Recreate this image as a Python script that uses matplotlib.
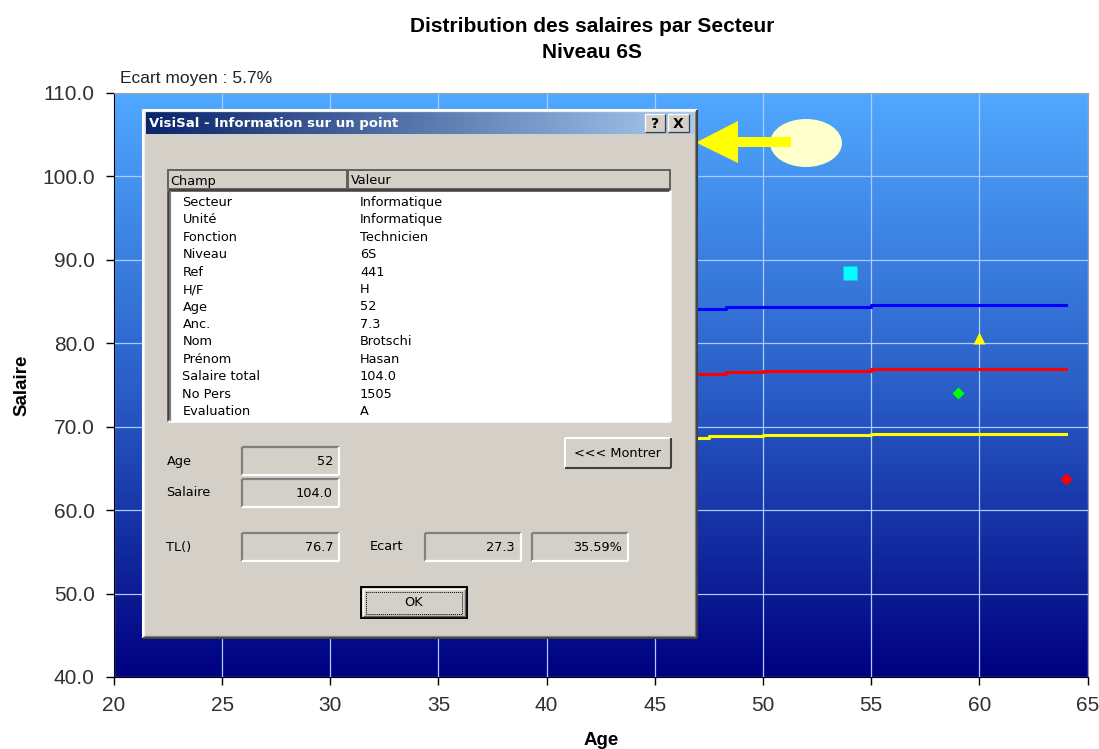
import matplotlib
matplotlib.use('Agg')
import matplotlib.pyplot as plt
import numpy as np
from matplotlib.colors import LinearSegmentedColormap
from matplotlib.patches import Rectangle, Ellipse, Polygon

plt.rcParams['font.family'] = ['Liberation Sans', 'DejaVu Sans']

# Courbes de tendance (TL) par age
tl_ages = [25, 48.3, 50, 55, 64]
tl_mid = [76.3, 76.5, 76.7, 76.9, 76.9]
tl_high = [84.1, 84.3, 84.4, 84.55, 84.55]
low_ages = [25, 47.5, 50, 55, 64]
tl_low = [68.7, 68.85, 69.0, 69.15, 69.15]

# Points visibles
sq_age, sq_sal = [54], [88.4]
tri_age, tri_sal = [60], [80.6]
dg_age, dg_sal = [59], [74.0]
dr_age, dr_sal = [64], [63.7]

x_ticks = [20, 25, 30, 35, 40, 45, 50, 55, 60, 65]
y_ticks = [40, 50, 60, 70, 80, 90, 100, 110]

# Contenu de la boite de dialogue
champs = ['Secteur', 'Unité', 'Fonction', 'Niveau', 'Ref', 'H/F', 'Age', 'Anc.',
          'Nom', 'Prénom', 'Salaire total', 'No Pers', 'Evaluation']
valeurs = ['Informatique', 'Informatique', 'Technicien', '6S', '441', 'H', '52', '7.3',
           'Brotschi', 'Hasan', '104.0', '1505', 'A']

W, H = 1099, 749
fig = plt.figure(figsize=(W / 100, H / 100), dpi=100)
ax = fig.add_axes([114 / W, 1 - 677 / H, 973.5 / W, 584 / H])

# fond en degrade
grad = np.linspace(0, 1, 256).reshape(-1, 1)
cmap = LinearSegmentedColormap.from_list('bg', ['#000080', '#2A5FC8', '#50A8FF'])
ax.imshow(grad, extent=(20, 65, 40, 110), origin='lower', aspect='auto', cmap=cmap, zorder=0)

ax.plot(tl_ages, tl_high, drawstyle='steps-post', color='#0000FF', lw=2.2, zorder=3)
ax.plot(tl_ages, tl_mid, drawstyle='steps-post', color='#FF0000', lw=2.2, zorder=3)
ax.plot(low_ages, tl_low, drawstyle='steps-post', color='#FFFF00', lw=2.2, zorder=3)

ax.plot(sq_age, sq_sal, 's', color='#00FFFF', ms=9.6, mec='none', zorder=4)
ax.plot(tri_age, tri_sal, '^', color='#FFFF00', ms=9, mec='none', zorder=4)
ax.plot(dg_age, dg_sal, 'D', color='#00FF00', ms=6.4, mec='none', zorder=4)
ax.plot(dr_age, dr_sal, 'D', color='#FF0000', ms=6.4, mec='none', zorder=4)

ax.set_xlim(20, 65)
ax.set_ylim(40, 110)
ax.set_xticks(x_ticks)
ax.set_yticks(y_ticks)
ax.set_yticklabels([f'{v:.1f}' for v in y_ticks])
ax.grid(True, color='#A8CCFF', lw=0.9)
ax.tick_params(direction='out', length=6, width=1, labelsize=15, labelcolor='#303030', pad=8)
for s in ['left', 'bottom']:
    ax.spines[s].set_color('black')
for s in ['top', 'right']:
    ax.spines[s].set_color('#A0A0A0')
ax.set_xlabel('Age', fontsize=13.5, fontweight='bold', labelpad=12)
ax.set_ylabel('Salaire', fontsize=13.5, fontweight='bold', labelpad=8)

fig.text(592 / W, 1 - 27 / H, 'Distribution des salaires par Secteur', ha='center', va='center',
         fontsize=15, fontweight='bold')
fig.text(592 / W, 1 - 53 / H, 'Niveau 6S', ha='center', va='center', fontsize=15, fontweight='bold')
fig.text(120 / W, 1 - 78 / H, 'Ecart moyen : 5.7%', ha='left', va='center', fontsize=12.5, color='#222222')

# calque en pixels pour la boite de dialogue
ui = fig.add_axes([0, 0, 1, 1], zorder=10)
ui.patch.set_alpha(0)
ui.axis('off')

GREY = '#D4D0C8'
DLG = dict(family='DejaVu Sans', fontsize=9.3, color='black')


def bevel(x0, y0, x1, y1, light, dark, lw=0.9):
    ui.plot([x0, x1], [y0, y0], color=light, lw=lw, solid_capstyle='butt')
    ui.plot([x0, x0], [y0, y1], color=light, lw=lw, solid_capstyle='butt')
    ui.plot([x0, x1], [y1, y1], color=dark, lw=lw, solid_capstyle='butt')
    ui.plot([x1, x1], [y0, y1], color=dark, lw=lw, solid_capstyle='butt')


def box(x0, y0, x1, y1, fc=GREY):
    ui.add_patch(Rectangle((x0, y0), x1 - x0, y1 - y0, fc=fc, ec='none'))


# forme ellipse + fleche
ui.add_patch(Ellipse((806, 143), 72, 48, fc='#FFFFCC', ec='none'))
ui.add_patch(Polygon([(696, 142.5), (738, 121), (738, 137), (791, 137), (791, 147),
                      (738, 147), (738, 163)], closed=True, fc='#FFFF00', ec='none'))

# cadre
box(142, 109, 697, 638)
bevel(142.5, 109.5, 696.5, 637.5, '#FFFFFF', '#404040', lw=1.5)
bevel(144, 111, 695, 636, '#F0F0F0', '#808080', lw=0.9)

# barre de titre
tgrad = np.linspace(0, 1, 256).reshape(1, -1)
tcmap = LinearSegmentedColormap.from_list('tb', ['#0A246A', '#A6CAF0'])
ui.imshow(tgrad, extent=(146, 694, 134, 111), aspect='auto', cmap=tcmap, zorder=1)
ui.text(149, 123, 'VisiSal - Information sur un point', ha='left', va='center', color='white',
        fontsize=9.5, fontweight='bold', family='DejaVu Sans', zorder=3)
for (bx0, bx1, lab) in [(645, 665, '?'), (668, 689, 'X')]:
    box(bx0, 114, bx1, 132)
    bevel(bx0, 114, bx1, 132, '#FFFFFF', '#404040', lw=0.9)
    ui.text((bx0 + bx1) / 2, 123.5, lab, ha='center', va='center', fontsize=10,
            fontweight='bold', family='DejaVu Sans', zorder=3)

# en-tete de la liste
for (hx0, hx1, lab) in [(168, 347, 'Champ'), (348, 670, 'Valeur')]:
    box(hx0, 170, hx1, 189)
    ui.add_patch(Rectangle((hx0, 170), hx1 - hx0, 19, fc='none', ec='#606060', lw=1.4))
    ui.text(hx0 + 2.5, 181, lab, ha='left', va='center', **DLG)

# liste
box(168, 190, 670, 421, fc='white')
bevel(167.5, 190, 670, 421, '#404040', '#FFFFFF', lw=1.8)
ui.plot([169.5, 169.5], [191, 420], color='#808080', lw=0.9)
for i, (c, v) in enumerate(zip(champs, valeurs)):
    y = 202.3 + i * 17.45
    ui.text(182.5, y, c, ha='left', va='center', **DLG)
    ui.text(360, y, v, ha='left', va='center', **DLG)

# champs du bas
ui.text(166.5, 461.5, 'Age', ha='left', va='center', **DLG)
ui.text(166.5, 492.5, 'Salaire', ha='left', va='center', **DLG)
ui.text(166.5, 547, 'TL()', ha='left', va='center', **DLG)
ui.text(370, 547, 'Ecart', ha='left', va='center', **DLG)
for (x0, y0, x1, y1, val) in [(242, 447, 339, 475, '52'), (242, 479, 339, 507, '104.0'),
                              (242, 533, 339, 561, '76.7'), (424.5, 533, 521, 561, '27.3'),
                              (531.5, 533, 628, 561, '35.59%')]:
    box(x0, y0, x1, y1)
    bevel(x0, y0, x1, y1, '#808080', '#FFFFFF', lw=1.6)
    ui.text(x1 - 6, (y0 + y1) / 2 + 0.5, val, ha='right', va='center', **DLG)

# bouton Montrer
box(565, 438, 670.5, 468)
bevel(565, 438, 670.5, 468, '#FFFFFF', '#404040', lw=1.5)
ui.text(617.5, 453.5, '<<< Montrer', ha='center', va='center', **DLG)

# bouton OK
box(360.7, 586.7, 466.8, 618)
ui.add_patch(Rectangle((360.7, 586.7), 106.1, 31.3, fc='none', ec='black', lw=1.4))
bevel(362.5, 588.5, 465, 616, '#FFFFFF', '#606060', lw=1.0)
ui.add_patch(Rectangle((366, 591.5), 96, 22, fc='none', ec='black', lw=0.7, ls=(0, (1, 1))))
ui.text(413.5, 603, 'OK', ha='center', va='center', **DLG)

ui.set_xlim(0, W)
ui.set_ylim(H, 0)

fig.savefig('out.png', dpi=100)
